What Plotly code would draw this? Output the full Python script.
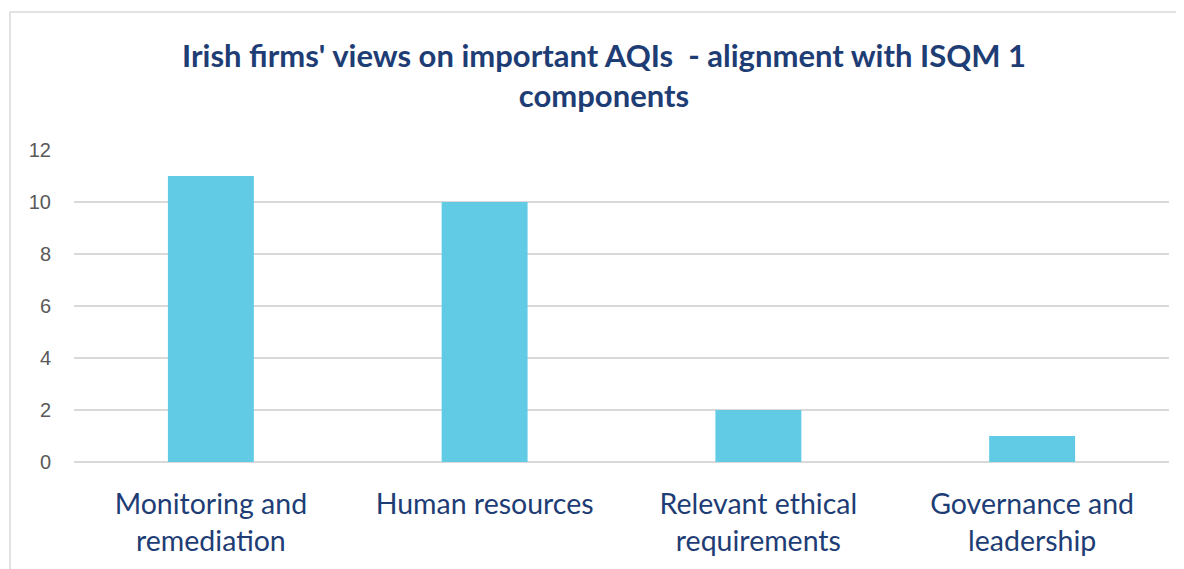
import plotly.graph_objects as go

categories = ["Monitoring and<br>remediation", "Human resources", "Relevant ethical<br>requirements", "Governance and<br>leadership"]
values = [11, 10, 2, 1]
y_ticks = [0, 2, 4, 6, 8, 10, 12]

title_text = "Irish firms' views on important AQIs  - alignment with ISQM 1<br>components"

OFF = 8  # page body margin
W, H = 1184 - OFF, 569 - OFF
L, R, T, B = 74 - OFF, 15, 150 - OFF, 107
TEXT_BLUE = "#1E3D75"

fig = go.Figure()
fig.add_trace(go.Bar(x=categories, y=values, marker=dict(color="#61CBE6", line=dict(width=0)),
                     width=0.314))

pw = W - L - R
ph = H - T - B
fig.add_shape(type="rect", xref="paper", yref="paper",
              x0=(10 - OFF - L) / pw, x1=(W + 20 - L) / pw,
              y0=-1.0, y1=(H - B - (12 - OFF)) / ph,
              line=dict(color="#D9D9D9", width=1.5), fillcolor="rgba(0,0,0,0)", layer="below")

fig.update_layout(
    width=W, height=H,
    margin=dict(l=L, r=R, t=T, b=B),
    paper_bgcolor="white", plot_bgcolor="white",
    showlegend=False,
    title=dict(text=title_text, x=(604 - OFF) / W, xanchor="center", xref="container",
               y=1 - (67 - OFF) / H, yanchor="middle", yref="container",
               font=dict(family="Lato", size=31, color=TEXT_BLUE, weight="bold")),
    font=dict(family="Lato"),
    xaxis=dict(tickfont=dict(size=28.5, color=TEXT_BLUE, family="Lato"), showgrid=False,
               showline=False, ticks="", fixedrange=True, ticklabelstandoff=22),
    yaxis=dict(range=[0, 12], tickvals=y_ticks, tickfont=dict(size=20, color="#595959", family="Liberation Sans"),
               showgrid=True, gridcolor="#D9D9D9", gridwidth=1.5, zeroline=True, zerolinecolor="#D9D9D9",
               zerolinewidth=1.5, showline=False, ticks="", ticklabelstandoff=22),
)

fig.write_html("out.html")
